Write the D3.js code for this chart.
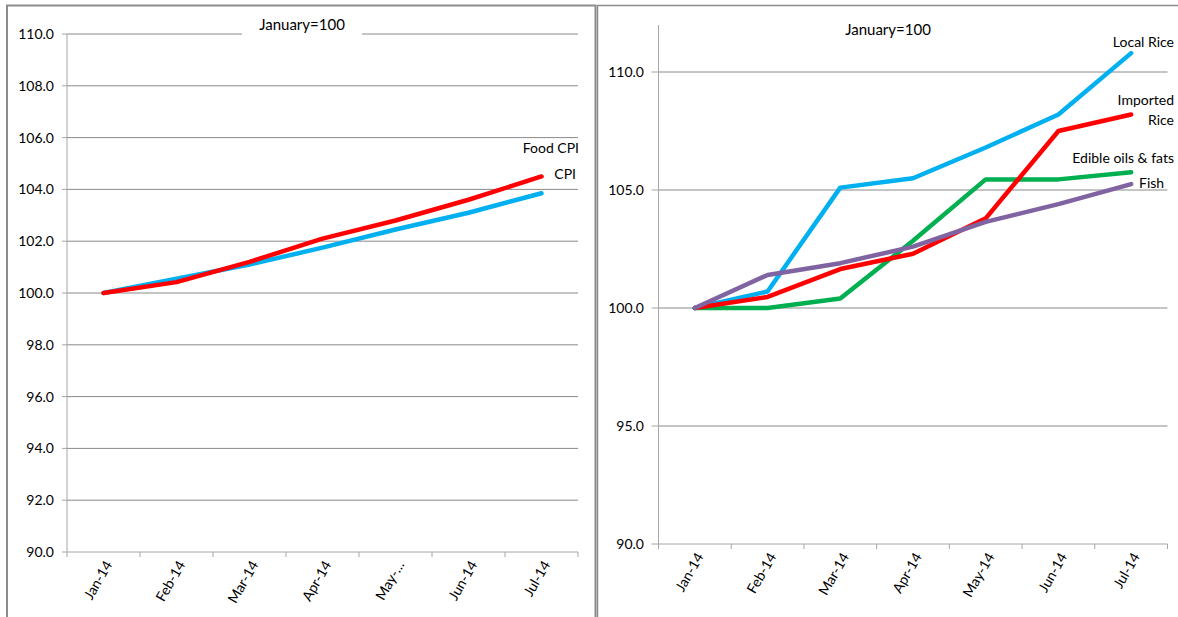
<!DOCTYPE html>
<html>
<head>
<meta charset="utf-8">
<script src="https://cdn.jsdelivr.net/npm/d3@7"></script>
<style>
  body { margin: 0; background: #fff; }
  text { font-family: Lato, "Open Sans", sans-serif; fill: #000; }
</style>
</head>
<body>
<svg id="chart"></svg>
<script>
/* jshint esversion: 6 */

// Categories and tick labels
const months = ["Jan-14", "Feb-14", "Mar-14", "Apr-14", "May-14", "Jun-14", "Jul-14"];
const leftMonthLabels = ["Jan-14", "Feb-14", "Mar-14", "Apr-14", "May-…", "Jun-14", "Jul-14"];
const leftTicks = [90, 92, 94, 96, 98, 100, 102, 104, 106, 108, 110];
const rightTicks = [90, 95, 100, 105, 110];

// Left panel series (January = 100)
const foodCpi = [100, 100.42, 101.2, 102.1, 102.8, 103.6, 104.5];
const cpi = [100, 100.55, 101.1, 101.75, 102.45, 103.1, 103.85];

// Right panel series (January = 100)
const localRice = [100, 100.7, 105.1, 105.5, 106.8, 108.2, 110.8];
const importedRice = [100, 100.47, 101.65, 102.3, 103.8, 107.5, 108.2];
const edibleOils = [100, 100, 100.4, 102.85, 105.45, 105.45, 105.75];
const fish = [100, 101.4, 101.9, 102.6, 103.65, 104.4, 105.25];

(function(){
	const width = 1178;
	const height = 617;

	const svg = d3.select("#chart")
			.attr("width", width)
			.attr("height", height);

	// panel frames
	svg.append("path")
			.attr("d", "M7,640 V5.5 H595.5 V640")
			.style("fill", "none")
			.style("stroke", "#8c8c8c")
			.style("stroke-width", 2);
	svg.append("path")
			.attr("d", "M597.5,640 V5.5 H1190")
			.style("fill", "none")
			.style("stroke", "#8c8c8c")
			.style("stroke-width", 1.5);

	function drawPanel(opts) {
		const g = svg.append("g");

		const x = d3.scaleBand()
				.domain(months)
				.range(opts.xRange);

		const y = d3.scaleLinear()
				.domain(opts.yDomain)
				.range(opts.yRange);

		const x0 = opts.xRange[0];
		const x1 = opts.xRange[1];
		const base = y(opts.yDomain[0]);

		// gridlines
		g.selectAll(".grid")
			.data(opts.ticks.slice(1))
			.enter().append("line")
				.attr("x1", x0)
				.attr("x2", x1)
				.attr("y1", d => y(d))
				.attr("y2", d => y(d))
				.style("stroke", "#8a8a8a")
				.style("stroke-width", 1);

		// y axis
		g.append("line")
				.attr("x1", x0).attr("x2", x0)
				.attr("y1", base).attr("y2", opts.yTop)
				.style("stroke", "#a6a6a6");

		g.selectAll(".ytick")
			.data(opts.ticks)
			.enter().append("line")
				.attr("x1", x0 - opts.tickLen).attr("x2", x0)
				.attr("y1", d => y(d)).attr("y2", d => y(d))
				.style("stroke", "#a6a6a6");

		g.selectAll(".ylabel")
			.data(opts.ticks)
			.enter().append("text")
				.attr("x", opts.labelX)
				.attr("y", d => y(d))
				.attr("dy", "0.35em")
				.attr("text-anchor", "end")
				.style("font-size", "14px")
				.text(d => d3.format(".1f")(d));

		// x axis
		g.append("line")
				.attr("x1", x0).attr("x2", x1)
				.attr("y1", base).attr("y2", base)
				.style("stroke", "#a6a6a6");

		g.selectAll(".xtick")
			.data(months.concat(["end"]))
			.enter().append("line")
				.attr("x1", (d, i) => x0 + i * x.bandwidth())
				.attr("x2", (d, i) => x0 + i * x.bandwidth())
				.attr("y1", base).attr("y2", base + 5)
				.style("stroke", "#a6a6a6");

		g.selectAll(".xlabel")
			.data(months)
			.enter().append("text")
				.attr("transform", d => `translate(${x(d) + x.bandwidth() / 2 + 5}, ${base + 10}) rotate(-60)`)
				.attr("text-anchor", "end")
				.attr("dy", "0.35em")
				.style("font-size", "14px")
				.text((d, i) => opts.monthLabels[i]);

		// subtitle
		const sub = g.append("g");
		if (opts.subBox) {
			sub.append("rect")
					.attr("x", opts.subX - 60)
					.attr("y", opts.subY - 12)
					.attr("width", 120)
					.attr("height", 22)
					.style("fill", "#fff");
		}
		sub.append("text")
				.attr("x", opts.subX)
				.attr("y", opts.subY)
				.attr("dy", "0.35em")
				.attr("text-anchor", "middle")
				.style("font-size", "15px")
				.text("January=100");

		// lines
		const line = d3.line()
				.x((d, i) => x(months[i]) + x.bandwidth() / 2)
				.y(d => y(d));

		g.selectAll(".line")
			.data(opts.series)
			.enter().append("path")
				.attr("d", d => line(d.values))
				.style("fill", "none")
				.style("stroke", d => d.color)
				.style("stroke-width", 4.5)
				.style("stroke-linejoin", "round")
				.style("stroke-linecap", "round");

		// series labels
		g.selectAll(".series-label")
			.data(opts.labels)
			.enter().append("text")
				.attr("x", d => d.x)
				.attr("y", d => d.y)
				.attr("dy", "0.35em")
				.attr("text-anchor", d => d.anchor || "end")
				.style("font-size", "14px")
				.text(d => d.text);
	}

	drawPanel({
		xRange: [67, 578],
		yDomain: [90, 110],
		yRange: [552, 34],
		yTop: 34,
		ticks: leftTicks,
		tickLen: 5,
		labelX: 54,
		monthLabels: leftMonthLabels,
		subX: 302,
		subY: 25,
		subBox: true,
		series: [
			{values: cpi, color: "#00b0f0"},
			{values: foodCpi, color: "#ff0000"}
		],
		labels: [
			{text: "Food CPI", x: 579, y: 148},
			{text: "CPI", x: 576, y: 174}
		]
	});

	drawPanel({
		xRange: [658.5, 1167.5],
		yDomain: [90, 112],
		yRange: [544, 544 - 22 * 23.6],
		yTop: 25,
		ticks: rightTicks,
		tickLen: 7,
		labelX: 644,
		monthLabels: months,
		subX: 888,
		subY: 30,
		subBox: false,
		series: [
			{values: edibleOils, color: "#00b050"},
			{values: localRice, color: "#00b0f0"},
			{values: importedRice, color: "#ff0000"},
			{values: fish, color: "#8064a2"}
		],
		labels: [
			{text: "Local Rice", x: 1174, y: 42},
			{text: "Imported", x: 1174, y: 100},
			{text: "Rice", x: 1174, y: 120},
			{text: "Edible oils & fats", x: 1174, y: 158},
			{text: "Fish", x: 1139, y: 183, anchor: "start"}
		]
	});
}());
</script>
</body>
</html>
